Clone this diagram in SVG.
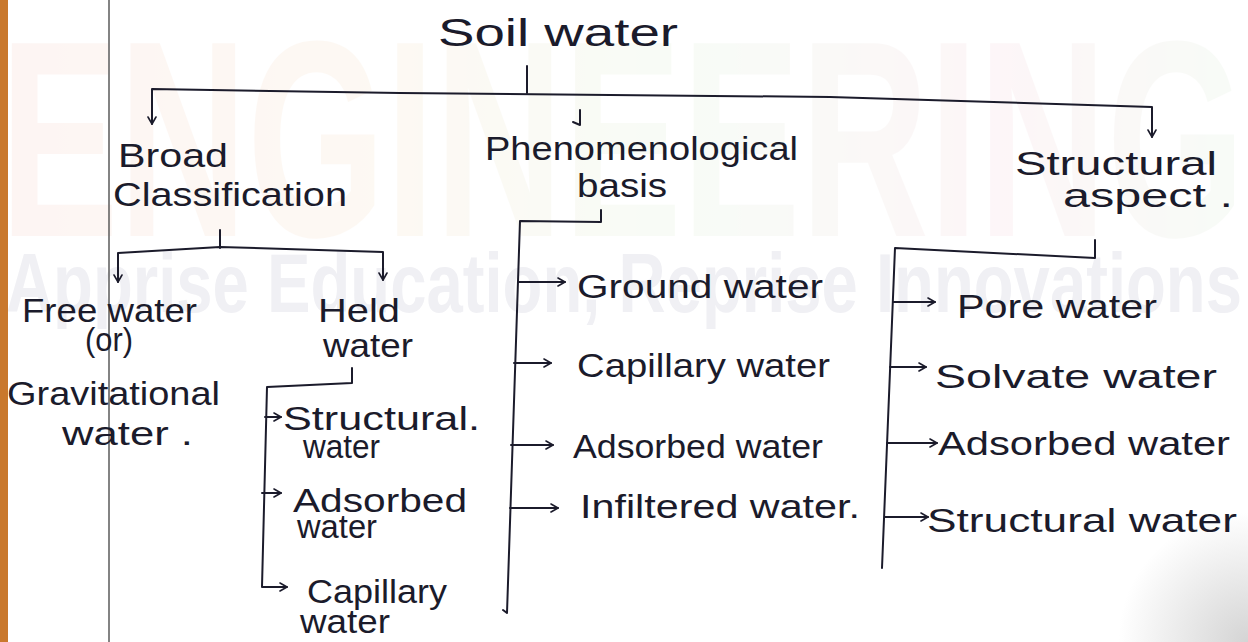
<svg xmlns="http://www.w3.org/2000/svg" width="1248" height="642" viewBox="0 0 1248 642">
<style>
.t{font-family:"Liberation Sans",Arial,sans-serif;font-size:33px;fill:#1b1b2b}
.big{font-size:38px}
.ln{fill:none;stroke:#1b1b2b;stroke-width:2;stroke-linecap:round;stroke-linejoin:round}
.wm{font-family:"Liberation Sans",Arial,sans-serif;font-weight:bold}
.wm1{fill:url(#wmg);opacity:0.13}
.wm2{fill:#f0f0f4}
</style>
<defs>
<marker id="arr" viewBox="0 0 10 10" refX="9" refY="5" markerWidth="10" markerHeight="10" markerUnits="userSpaceOnUse" orient="auto-start-reverse">
<path d="M2,1 L9,5 L2,9" fill="none" stroke="#1b1b2b" stroke-width="1.6" stroke-linecap="round" stroke-linejoin="round"/>
</marker>
<linearGradient id="wmg" x1="0" y1="0" x2="1248" y2="0" gradientUnits="userSpaceOnUse">
<stop offset="0" stop-color="#f3b7a8"/>
<stop offset="0.3" stop-color="#f5d2a8"/>
<stop offset="0.55" stop-color="#cbe8c2"/>
<stop offset="0.8" stop-color="#f2bccb"/>
<stop offset="1" stop-color="#c9e8c4"/>
</linearGradient>
<radialGradient id="shade" cx="1248" cy="642" r="130" gradientUnits="userSpaceOnUse">
<stop offset="0" stop-color="#a0a0a0" stop-opacity="0.45"/>
<stop offset="1" stop-color="#a0a0a0" stop-opacity="0"/>
</radialGradient>
</defs>
<rect width="1248" height="642" fill="#ffffff"/>
<g id="watermark">
<text class="wm wm1" x="0" y="236" font-size="280" textLength="1245" lengthAdjust="spacingAndGlyphs">ENGINEERING</text>
<text class="wm wm2" x="6" y="312" font-size="84" textLength="1236" lengthAdjust="spacingAndGlyphs">Apprise Education, Reprise Innovations</text>
</g>
<rect x="0" y="0" width="8" height="642" fill="#c9782c"/>
<line x1="109" y1="0" x2="109" y2="642" stroke="#5a5a5a" stroke-width="1.5"/>
<rect x="1118" y="512" width="130" height="130" fill="url(#shade)"/>

<g id="connectors">
<path class="ln" d="M527,66 L527,93"/>
<path class="ln" d="M152,124 L152,89 L400,93 L830,97 L1152,107 L1152,137" marker-start="url(#arr)" marker-end="url(#arr)"/>
<path class="ln" d="M580,110 L580,125 L573,122"/>
<path class="ln" d="M220,230 L220,248"/>
<path class="ln" d="M118,282 L118,253 L220,247 L383,252 L383,280" marker-start="url(#arr)" marker-end="url(#arr)"/>
<path class="ln" d="M352,368 L352,383 L267,387 L262,587 L287,587" marker-end="url(#arr)"/>
<path class="ln" d="M265,417 L281,417" marker-end="url(#arr)"/>
<path class="ln" d="M262,493 L281,493" marker-end="url(#arr)"/>
<path class="ln" d="M601,210 L601,222 L520,221 L507,613 L503,610"/>
<path class="ln" d="M518,282 L565,282" marker-end="url(#arr)"/>
<path class="ln" d="M514,363 L551,363" marker-end="url(#arr)"/>
<path class="ln" d="M511,445 L553,445" marker-end="url(#arr)"/>
<path class="ln" d="M510,508 L558,508" marker-end="url(#arr)"/>
<path class="ln" d="M1095,240 L1095,258 L895,248 L882,568"/>
<path class="ln" d="M893,302 L935,302" marker-end="url(#arr)"/>
<path class="ln" d="M890,367 L926,367" marker-end="url(#arr)"/>
<path class="ln" d="M887,443 L937,443" marker-end="url(#arr)"/>
<path class="ln" d="M885,517 L928,517" marker-end="url(#arr)"/>
</g>

<g id="soil-water"><text class="t big" x="438" y="46" textLength="240" lengthAdjust="spacingAndGlyphs">Soil water</text></g>
<g id="broad-classification">
<text class="t" x="118" y="167" textLength="110" lengthAdjust="spacingAndGlyphs">Broad</text>
<text class="t" x="113" y="206" textLength="234" lengthAdjust="spacingAndGlyphs">Classification</text>
</g>
<g id="phenomenological-basis">
<text class="t" x="485" y="160" textLength="313" lengthAdjust="spacingAndGlyphs">Phenomenological</text>
<text class="t" x="577" y="197" textLength="90" lengthAdjust="spacingAndGlyphs">basis</text>
</g>
<g id="structural-aspect">
<text class="t" x="1015" y="175" textLength="202" lengthAdjust="spacingAndGlyphs">Structural</text>
<text class="t" x="1063" y="207" textLength="170" lengthAdjust="spacingAndGlyphs">aspect .</text>
</g>
<g id="free-water">
<text class="t" x="22" y="322" textLength="175" lengthAdjust="spacingAndGlyphs">Free water</text>
<text class="t" x="85" y="351" font-size="28" textLength="48" lengthAdjust="spacingAndGlyphs">(or)</text>
<text class="t" x="7" y="405" textLength="213" lengthAdjust="spacingAndGlyphs">Gravitational</text>
<text class="t" x="62" y="445" textLength="131" lengthAdjust="spacingAndGlyphs">water .</text>
</g>
<g id="held-water">
<text class="t" x="318" y="322" textLength="82" lengthAdjust="spacingAndGlyphs">Held</text>
<text class="t" x="323" y="357" textLength="90" lengthAdjust="spacingAndGlyphs">water</text>
</g>
<g id="held-structural">
<text class="t" x="283" y="430" textLength="197" lengthAdjust="spacingAndGlyphs">Structural.</text>
<text class="t" x="303" y="458" font-size="28" textLength="77" lengthAdjust="spacingAndGlyphs">water</text>
</g>
<g id="held-adsorbed">
<text class="t" x="293" y="512" textLength="174" lengthAdjust="spacingAndGlyphs">Adsorbed</text>
<text class="t" x="297" y="538" font-size="28" textLength="80" lengthAdjust="spacingAndGlyphs">water</text>
</g>
<g id="held-capillary">
<text class="t" x="307" y="603" textLength="140" lengthAdjust="spacingAndGlyphs">Capillary</text>
<text class="t" x="300" y="633" font-size="31" textLength="90" lengthAdjust="spacingAndGlyphs">water</text>
</g>
<g id="ground-water"><text class="t" x="577" y="298" textLength="246" lengthAdjust="spacingAndGlyphs">Ground water</text></g>
<g id="capillary-water"><text class="t" x="577" y="377" textLength="253" lengthAdjust="spacingAndGlyphs">Capillary water</text></g>
<g id="adsorbed-water-mid"><text class="t" x="573" y="458" textLength="250" lengthAdjust="spacingAndGlyphs">Adsorbed water</text></g>
<g id="infiltered-water"><text class="t" x="580" y="518" textLength="280" lengthAdjust="spacingAndGlyphs">Infiltered water.</text></g>
<g id="pore-water"><text class="t" x="957" y="318" textLength="200" lengthAdjust="spacingAndGlyphs">Pore water</text></g>
<g id="solvate-water"><text class="t" x="935" y="388" textLength="282" lengthAdjust="spacingAndGlyphs">Solvate water</text></g>
<g id="adsorbed-water-right"><text class="t" x="938" y="455" textLength="292" lengthAdjust="spacingAndGlyphs">Adsorbed water</text></g>
<g id="structural-water"><text class="t" x="927" y="532" textLength="310" lengthAdjust="spacingAndGlyphs">Structural water</text></g>
</svg>
